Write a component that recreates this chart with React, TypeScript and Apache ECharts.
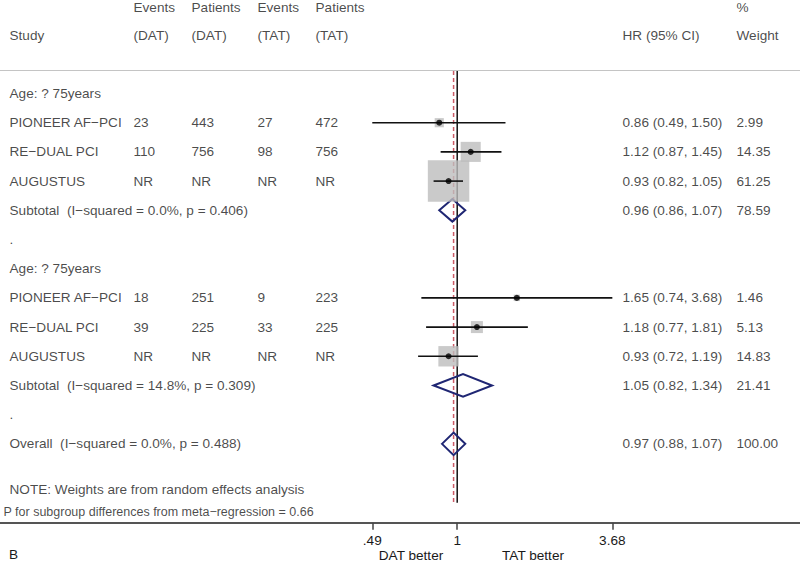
import React, { useEffect, useRef } from "react";
import * as echarts from "echarts";

// ---------- data ----------
const groupLabels = ["Age: ? 75years", "Age: ? 75years"];
const studyNames = ["PIONEER AF\u2212PCI", "RE\u2212DUAL PCI", "AUGUSTUS"];
const eventsDAT = [["23", "110", "NR"], ["18", "39", "NR"]];
const patientsDAT = [["443", "756", "NR"], ["251", "225", "NR"]];
const eventsTAT = [["27", "98", "NR"], ["9", "33", "NR"]];
const patientsTAT = [["472", "756", "NR"], ["223", "225", "NR"]];
const hr = [[0.86, 1.12, 0.93], [1.65, 1.18, 0.93]];
const ciLow = [[0.49, 0.87, 0.82], [0.74, 0.77, 0.72]];
const ciHigh = [[1.5, 1.45, 1.05], [3.68, 1.81, 1.19]];
const weights = [[2.99, 14.35, 61.25], [1.46, 5.13, 14.83]];
const subtotalHR = [0.96, 1.05];
const subtotalLow = [0.86, 0.82];
const subtotalHigh = [1.07, 1.34];
const subtotalWeight = [78.59, 21.41];
const subtotalHet = ["I\u2212squared = 0.0%, p = 0.406", "I\u2212squared = 14.8%, p = 0.309"];
const overallHR = 0.97;
const overallLow = 0.88;
const overallHigh = 1.07;
const overallWeight = 100.0;
const overallHet = "I\u2212squared = 0.0%, p = 0.488";
const axisTicks = [0.49, 1, 3.68];
const tickLabels = [".49", "1", "3.68"];
const headerTop = ["Events", "Patients", "Events", "Patients", "%"];
const headerBottom = ["Study", "(DAT)", "(DAT)", "(TAT)", "(TAT)", "HR (95% CI)", "Weight"];
const noteText = "NOTE: Weights are from random effects analysis";
const pText = "P for subgroup differences from meta\u2212regression = 0.66";
const panelLetter = "B";
const leftFavours = "DAT better";
const rightFavours = "TAT better";

// ---------- layout ----------
const FONT = "'Liberation Sans', Arial, Helvetica, sans-serif";
const FS = 13.6;
const TEXT = "#1a1a1a";
const X_MIN = -3.84;
const X_MAX = 2.879;
const COL = { study: 9, eDAT: 133, pDAT: 191, eTAT: 257, pTAT: 315, ci: 622, wt: 736 };
const headerTopCols = [COL.eDAT, COL.pDAT, COL.eTAT, COL.pTAT, COL.wt];
const headerBottomCols = [COL.study, COL.eDAT, COL.pDAT, COL.eTAT, COL.pTAT, COL.ci, COL.wt];

const fmtCI = (e: number, l: number, h: number) =>
  `${e.toFixed(2)} (${l.toFixed(2)}, ${h.toFixed(2)})`;

function buildOption() {
  const texts: any[] = [];
  const squares: any[] = [];
  const ciLines: any[] = [];
  const dots: any[] = [];
  const diamonds: any[] = [];
  const t = (x: number, row: number, s: string, extra?: any) =>
    texts.push({ value: [x, row], name: s, ...(extra ? { label: extra } : {}) });

  headerTop.forEach((s, i) => t(headerTopCols[i], -2.93, s));
  headerBottom.forEach((s, i) => t(headerBottomCols[i], -1.99, s));

  groupLabels.forEach((g, gi) => {
    const base = gi * 6;
    t(COL.study, base, g);
    studyNames.forEach((name, si) => {
      const row = base + 1 + si;
      t(COL.study, row, name);
      t(COL.eDAT, row, eventsDAT[gi][si]);
      t(COL.pDAT, row, patientsDAT[gi][si]);
      t(COL.eTAT, row, eventsTAT[gi][si]);
      t(COL.pTAT, row, patientsTAT[gi][si]);
      t(COL.ci, row, fmtCI(hr[gi][si], ciLow[gi][si], ciHigh[gi][si]));
      t(COL.wt, row, weights[gi][si].toFixed(2));
      squares.push([Math.log(hr[gi][si]), row, weights[gi][si]]);
      ciLines.push([Math.log(ciLow[gi][si]), Math.log(ciHigh[gi][si]), row]);
      dots.push([Math.log(hr[gi][si]), row]);
    });
    const srow = base + 4;
    t(COL.study, srow, "Subtotal\u00a0 (" + subtotalHet[gi] + ")");
    t(COL.ci, srow, fmtCI(subtotalHR[gi], subtotalLow[gi], subtotalHigh[gi]));
    t(COL.wt, srow, subtotalWeight[gi].toFixed(2));
    diamonds.push([
      Math.log(subtotalLow[gi]),
      Math.log(subtotalHR[gi]),
      Math.log(subtotalHigh[gi]),
      srow,
    ]);
    t(COL.study, base + 5, ".");
  });
  t(COL.study, 12, "Overall\u00a0 (" + overallHet + ")");
  t(COL.ci, 12, fmtCI(overallHR, overallLow, overallHigh));
  t(COL.wt, 12, overallWeight.toFixed(2));
  diamonds.push([Math.log(overallLow), Math.log(overallHR), Math.log(overallHigh), 12]);
  t(COL.study, 13.58, noteText);
  t(3, 14.33, pText, { fontSize: 12.5 });

  const tickVals = axisTicks.map((v) => Math.log(v));

  return {
    animation: false,
    backgroundColor: "#ffffff",
    textStyle: { fontFamily: FONT },
    grid: { left: 0, right: 0, top: 5.9, bottom: 40.3, containLabel: false },
    xAxis: [
      {
        type: "value",
        min: X_MIN,
        max: X_MAX,
        position: "bottom",
        axisLine: { show: true, onZero: false, lineStyle: { color: "#555555", width: 2 } },
        axisTick: {
          show: true,
          length: 7,
          customValues: tickVals,
          lineStyle: { color: "#444444", width: 1.5 },
        },
        axisLabel: {
          show: true,
          customValues: tickVals,
          margin: 11,
          fontSize: FS,
          color: TEXT,
          fontFamily: FONT,
          formatter: (v: number) => {
            const i = tickVals.findIndex((tv) => Math.abs(tv - v) < 1e-6);
            return i >= 0 ? tickLabels[i] : "";
          },
        },
        splitLine: { show: false },
      },
      { type: "value", min: 0, max: 800, show: false },
    ],
    yAxis: { type: "value", inverse: true, min: -3, max: 14.7, show: false },
    graphic: [
      {
        type: "line",
        shape: { x1: 0, y1: 70.5, x2: 800, y2: 70.5 },
        style: { stroke: "#c4c4c4", lineWidth: 1 },
        z: 1,
      },
      {
        type: "text",
        x: 411,
        y: 555,
        style: { text: leftFavours, font: `${FS}px ${FONT}`, fill: TEXT, align: "center", verticalAlign: "middle" },
      },
      {
        type: "text",
        x: 533,
        y: 555,
        style: { text: rightFavours, font: `${FS}px ${FONT}`, fill: TEXT, align: "center", verticalAlign: "middle" },
      },
      {
        type: "text",
        x: 9,
        y: 554,
        style: { text: panelLetter, font: `${FS}px ${FONT}`, fill: TEXT, align: "left", verticalAlign: "middle" },
      },
    ],
    series: [
      {
        type: "line",
        name: "null",
        data: [[0, -0.77], [0, 14.02]],
        symbol: "none",
        lineStyle: { color: "#111111", width: 1.5 },
        z: 1,
        silent: true,
      },
      {
        type: "line",
        name: "overall",
        data: [[Math.log(overallHR), -0.77], [Math.log(overallHR), 14.02]],
        symbol: "none",
        lineStyle: { color: "#cc5a66", width: 1.5, type: [4, 3] },
        z: 1,
        silent: true,
      },
      {
        type: "custom",
        name: "diamonds",
        data: diamonds,
        encode: { x: [0, 1, 2], y: 3 },
        z: 2,
        renderItem: (_p: any, api: any) => {
          const row = api.value(3);
          const a = api.coord([api.value(0), row]);
          const c = api.coord([api.value(1), row]);
          const b = api.coord([api.value(2), row]);
          const h = 11.3;
          return {
            type: "polygon",
            shape: { points: [a, [c[0], c[1] - h], b, [c[0], c[1] + h]] },
            style: { fill: "none", stroke: "#1f2673", lineWidth: 2 },
          };
        },
      },
      {
        type: "scatter",
        name: "weights",
        data: squares,
        symbol: "rect",
        symbolSize: (v: number[]) => 5.3 * Math.sqrt(v[2]),
        itemStyle: { color: "#bdbdbd" },
        z: 3,
        silent: true,
      },
      {
        type: "custom",
        name: "ci",
        data: ciLines,
        encode: { x: [0, 1], y: 2 },
        z: 4,
        renderItem: (_p: any, api: any) => {
          const row = api.value(2);
          const p1 = api.coord([api.value(0), row]);
          const p2 = api.coord([api.value(1), row]);
          return {
            type: "line",
            shape: { x1: p1[0], y1: p1[1], x2: p2[0], y2: p2[1] },
            style: { stroke: "#111111", lineWidth: 1.6 },
          };
        },
      },
      {
        type: "scatter",
        name: "estimates",
        data: dots,
        symbol: "circle",
        symbolSize: 6,
        itemStyle: { color: "#000000" },
        z: 5,
        silent: true,
      },
      {
        type: "scatter",
        name: "table",
        xAxisIndex: 1,
        data: texts,
        symbolSize: 1,
        itemStyle: { color: "rgba(0,0,0,0)" },
        z: 6,
        silent: true,
        label: {
          show: true,
          position: "right",
          distance: 0,
          formatter: "{b}",
          fontSize: FS,
          color: TEXT,
          fontFamily: FONT,
        },
      },
    ],
  };
}

export default function App() {
  const ref = useRef<HTMLDivElement>(null);
  useEffect(() => {
    if (!ref.current) return;
    const chart = echarts.init(ref.current, undefined, { renderer: "svg" });
    chart.setOption(buildOption() as any);
    return () => chart.dispose();
  }, []);
  return (
    <div
      ref={ref}
      style={{ position: "fixed", left: 0, top: 0, width: 800, height: 563, background: "#fff" }}
    />
  );
}
